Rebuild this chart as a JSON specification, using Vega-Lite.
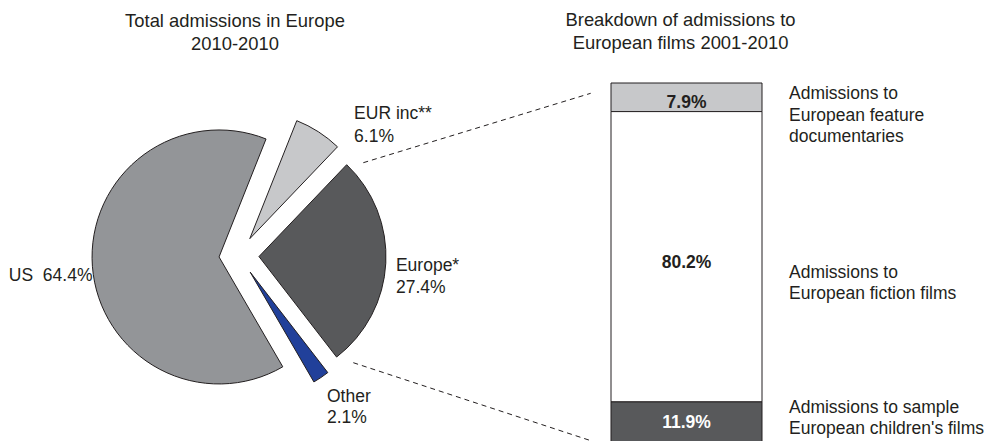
{
  "$schema": "https://vega.github.io/schema/vega-lite/v6.json",
  "padding": {"top": 11, "left": 0, "right": 0, "bottom": 0},
  "background": "white",
  "config": {"view": {"stroke": null}, "font": "Liberation Sans"},
  "spacing": 133,
  "bounds": "flush",
  "resolve": {"scale": {"color": "independent", "x": "independent", "y": "independent", "theta": "independent"}},
  "hconcat": [
    {
      "width": 478,
      "height": 362,
      "title": {"text": ["Total admissions in Europe", "2010-2010"], "fontSize": 18.4, "fontWeight": "normal", "color": "#231f20", "lineHeight": 23, "anchor": "middle", "dx": -4, "offset": 30},
      "data": {"values": [
        {"category": "EUR inc**", "value": 6.1},
        {"category": "Europe*", "value": 27.4},
        {"category": "Other", "value": 2.1},
        {"category": "US", "value": 64.4}
      ]},
      "transform": [
        {"window": [{"op": "row_number", "as": "idx"}]},
        {"stack": "value", "groupby": [], "sort": [{"field": "idx", "order": "ascending"}], "as": ["a0", "a1"]},
        {"joinaggregate": [{"op": "sum", "field": "value", "as": "total"}]},
        {"calculate": "(datum.a0 + datum.a1) / 2", "as": "am"},
        {"calculate": "0.379 + 2 * PI * datum.am / datum.total", "as": "mid"},
        {"calculate": "sin(datum.mid)", "as": "ex"},
        {"calculate": "-cos(datum.mid)", "as": "ey"},
        {"calculate": "datum.category + (datum.category === 'US' ? '\u00a0\u00a0' : '\\n') + format(datum.value, '.1f') + '%'", "as": "lbl"}
      ],
      "encoding": {
        "x": {"field": "ex", "type": "quantitative", "stack": null, "scale": {"domain": [-1, 1], "range": [219, 259], "nice": false, "zero": false}, "axis": null},
        "y": {"field": "ey", "type": "quantitative", "stack": null, "scale": {"domain": [-1, 1], "range": [152.5, 192.5], "nice": false, "zero": false}, "axis": null}
      },
      "layer": [
        {
          "mark": {"type": "arc", "outerRadius": 127, "stroke": "#231f20", "strokeWidth": 1},
          "encoding": {
            "theta": {"field": "a0", "type": "quantitative", "scale": {"domain": [0, 100], "range": [0.379, 6.6622]}},
            "theta2": {"field": "a1"},
            "color": {"field": "category", "type": "nominal", "scale": {"domain": ["EUR inc**", "Europe*", "Other", "US"], "range": ["#c7c8ca", "#58595b", "#21409a", "#939598"]}, "legend": null}
          }
        },
        {
          "transform": [{"filter": "datum.category === 'EUR inc**'"}],
          "mark": {"type": "text", "radius": 162.5, "thetaOffset": 0.126, "align": "left", "baseline": "middle", "fontSize": 17.5, "lineHeight": 22.5, "lineBreak": "\n", "color": "#231f20"},
          "encoding": {"theta": {"field": "am", "type": "quantitative"}, "text": {"field": "lbl"}}
        },
        {
          "transform": [{"filter": "datum.category === 'Europe*'"}],
          "mark": {"type": "text", "radius": 137.3, "thetaOffset": 0.017, "align": "left", "baseline": "middle", "fontSize": 17.5, "lineHeight": 21.5, "lineBreak": "\n", "color": "#231f20"},
          "encoding": {"theta": {"field": "am", "type": "quantitative"}, "text": {"field": "lbl"}}
        },
        {
          "transform": [{"filter": "datum.category === 'Other'"}],
          "mark": {"type": "text", "radius": 146.6, "thetaOffset": 0.04, "align": "left", "baseline": "middle", "fontSize": 17.5, "lineHeight": 21.5, "lineBreak": "\n", "color": "#231f20"},
          "encoding": {"theta": {"field": "am", "type": "quantitative"}, "text": {"field": "lbl"}}
        },
        {
          "transform": [{"filter": "datum.category === 'US'"}],
          "mark": {"type": "text", "radius": 128, "thetaOffset": -0.075, "align": "right", "baseline": "middle", "fontSize": 17.5, "color": "#231f20"},
          "encoding": {"theta": {"field": "am", "type": "quantitative"}, "text": {"field": "lbl"}}
        }
      ]
    },
    {
      "width": 151,
      "height": 362,
      "title": {"text": ["Breakdown of admissions to", "European films 2001-2010"], "fontSize": 18.4, "fontWeight": "normal", "color": "#231f20", "lineHeight": 23, "anchor": "middle", "dx": -6, "offset": 30},
      "data": {"values": [
        {"key": "documentaries", "label": ["Admissions to", "European feature", "documentaries"], "value": 7.9},
        {"key": "fiction", "label": ["Admissions to", "European fiction films"], "value": 80.2},
        {"key": "children", "label": ["Admissions to sample", "European children's films"], "value": 11.9}
      ]},
      "transform": [
        {"window": [{"op": "row_number", "as": "idx"}]},
        {"stack": "value", "groupby": [], "sort": [{"field": "idx", "order": "descending"}], "as": ["s0", "s1"]},
        {"calculate": "(datum.s0 + datum.s1) / 2", "as": "mid"},
        {"calculate": "format(datum.value, '.1f') + '%'", "as": "pct"}
      ],
      "layer": [
        {
          "mark": {"type": "bar", "stroke": "#231f20", "strokeWidth": 1},
          "encoding": {
            "x": {"datum": "European films", "type": "nominal", "scale": {"paddingInner": 0, "paddingOuter": 0}, "axis": null},
            "y": {"field": "s0", "type": "quantitative", "stack": null, "scale": {"domain": [0, 100], "nice": false}, "axis": null},
            "y2": {"field": "s1"},
            "color": {"field": "key", "type": "nominal", "scale": {"domain": ["documentaries", "fiction", "children"], "range": ["#c7c8ca", "#ffffff", "#58595b"]}, "legend": null}
          }
        },
        {
          "transform": [{"filter": "datum.key !== 'children'"}],
          "mark": {"type": "text", "fontSize": 17.5, "fontWeight": "bold", "baseline": "middle", "dy": 6, "color": "#231f20"},
          "encoding": {
            "x": {"datum": "European films", "type": "nominal"},
            "y": {"field": "mid", "type": "quantitative"},
            "text": {"field": "pct"}
          }
        },
        {
          "transform": [{"filter": "datum.key === 'children'"}],
          "mark": {"type": "text", "fontSize": 17.5, "fontWeight": "bold", "baseline": "middle", "dy": 0, "color": "#ffffff"},
          "encoding": {
            "x": {"datum": "European films", "type": "nominal"},
            "y": {"field": "mid", "type": "quantitative"},
            "text": {"field": "pct"}
          }
        },
        {
          "transform": [{"filter": "datum.key === 'documentaries'"}],
          "mark": {"type": "text", "fontSize": 17.5, "align": "left", "baseline": "middle", "dx": 27, "dy": -3, "lineHeight": 21.5, "color": "#231f20"},
          "encoding": {
            "x": {"datum": "European films", "type": "nominal", "bandPosition": 1},
            "y": {"field": "mid", "type": "quantitative"},
            "text": {"field": "label"}
          }
        },
        {
          "transform": [{"filter": "datum.key === 'fiction'"}],
          "mark": {"type": "text", "fontSize": 17.5, "align": "left", "baseline": "middle", "dx": 27, "dy": 16, "lineHeight": 21.5, "color": "#231f20"},
          "encoding": {
            "x": {"datum": "European films", "type": "nominal", "bandPosition": 1},
            "y": {"field": "mid", "type": "quantitative"},
            "text": {"field": "label"}
          }
        },
        {
          "transform": [{"filter": "datum.key === 'children'"}],
          "mark": {"type": "text", "fontSize": 17.5, "align": "left", "baseline": "middle", "dx": 27, "dy": -15.5, "lineHeight": 21.5, "color": "#231f20"},
          "encoding": {
            "x": {"datum": "European films", "type": "nominal", "bandPosition": 1},
            "y": {"field": "mid", "type": "quantitative"},
            "text": {"field": "label"}
          }
        },
        {
          "data": {"values": [{"connector": "Europe* upper"}]},
          "mark": {"type": "rule", "stroke": "#231f20", "strokeWidth": 1, "strokeDash": [5, 4]},
          "encoding": {"x": {"value": -247.7}, "y": {"value": 79.7}, "x2": {"value": -20.3}, "y2": {"value": 10.3}}
        },
        {
          "data": {"values": [{"connector": "Europe* lower"}]},
          "mark": {"type": "rule", "stroke": "#231f20", "strokeWidth": 1, "strokeDash": [5, 4]},
          "encoding": {"x": {"value": -257.7}, "y": {"value": 279.7}, "x2": {"value": -21}, "y2": {"value": 357.4}}
        }
      ]
    }
  ]
}
